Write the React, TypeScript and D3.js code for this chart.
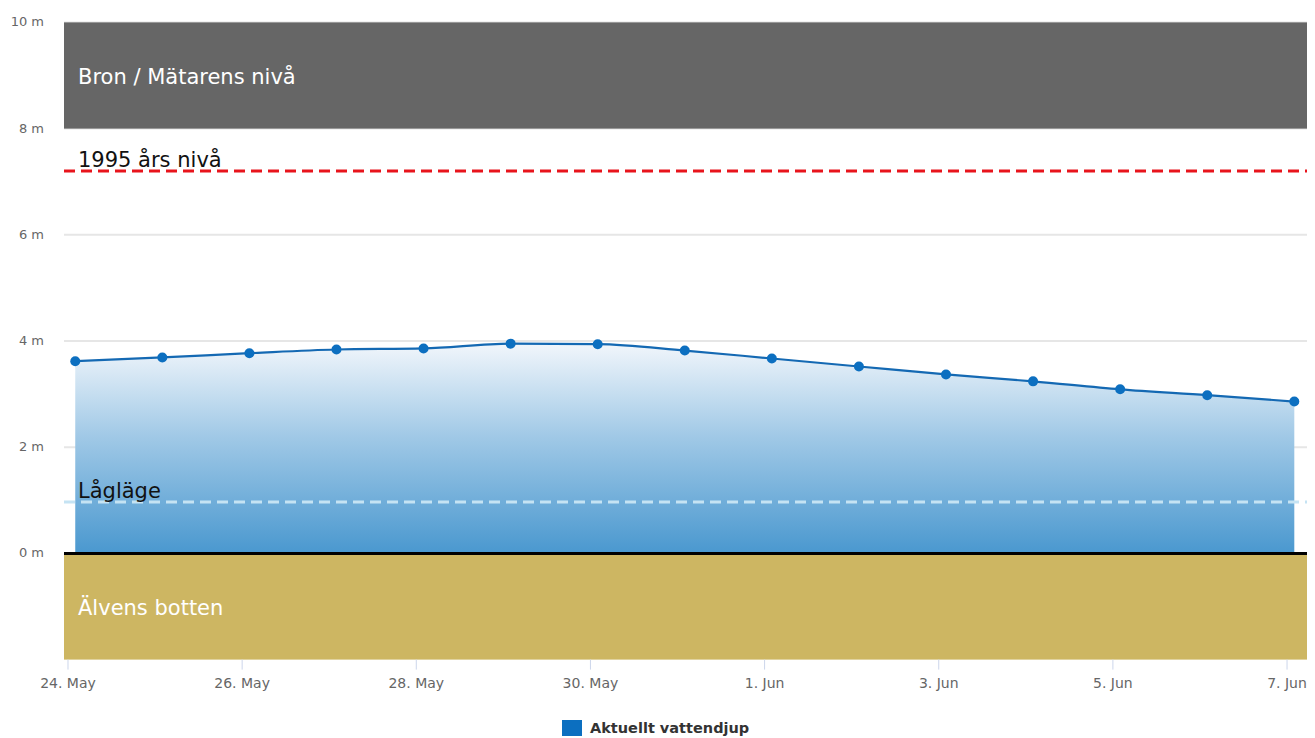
import { useEffect, useRef } from "react";
import * as d3 from "d3";

// dates of the readings (one per day, taken around 02:00)
const readingDates = [
  "2024-05-24", "2024-05-25", "2024-05-26", "2024-05-27", "2024-05-28",
  "2024-05-29", "2024-05-30", "2024-05-31", "2024-06-01", "2024-06-02",
  "2024-06-03", "2024-06-04", "2024-06-05", "2024-06-06", "2024-06-07",
];
// water depth in metres
const depthValues = [
  3.62, 3.69, 3.77, 3.84, 3.86, 3.95, 3.94, 3.82, 3.67, 3.52, 3.37, 3.24, 3.09, 2.98, 2.86,
];
const yTicks = [0, 2, 4, 6, 8, 10];
const xTickDates = ["2024-05-24", "2024-05-26", "2024-05-28", "2024-05-30", "2024-06-01", "2024-06-03", "2024-06-05", "2024-06-07"];

// bands and reference lines
const bridgeBand = [8, 10];
const bottomBand = [-2, 0];
const level1995 = 7.2;
const lowLevel = 0.97;

const seriesName = "Aktuellt vattendjup";

const W = 1315;
const H = 738;

function App() {
  const ref = useRef<SVGSVGElement>(null);

  useEffect(() => {
    const svg = d3.select(ref.current);
    svg.selectAll("*").remove();

    const parse = d3.timeParse("%Y-%m-%d");
    const readings = readingDates.map((d, i) => ({
      date: d3.timeHour.offset(parse(d) as Date, 2),
      value: depthValues[i],
    }));

    const plot = { left: 64, right: 1307, top: 22.4, bottom: 659.6 };

    const x = d3
      .scaleTime()
      .domain([new Date(2024, 4, 23, 22, 54), new Date(2024, 5, 7, 5, 30)])
      .range([plot.left, plot.right]);
    const y = d3.scaleLinear().domain([-2, 10]).range([plot.bottom, plot.top]);

    const font = "'DejaVu Sans', Verdana, sans-serif";

    // gradient for the area
    const defs = svg.append("defs");
    const grad = defs
      .append("linearGradient")
      .attr("id", "waterGrad")
      .attr("gradientUnits", "userSpaceOnUse")
      .attr("x1", 0)
      .attr("x2", 0)
      .attr("y1", y(d3.max(depthValues) as number))
      .attr("y2", y(0));
    grad.append("stop").attr("offset", 0).attr("stop-color", "#f1f6fb");
    grad.append("stop").attr("offset", 0.45).attr("stop-color", "#9fc8e6");
    grad.append("stop").attr("offset", 1).attr("stop-color", "#4a98cf");

    // grid lines
    svg
      .append("g")
      .selectAll("line")
      .data(yTicks)
      .enter()
      .append("line")
      .attr("x1", plot.left)
      .attr("x2", plot.right)
      .attr("y1", (d) => y(d))
      .attr("y2", (d) => y(d))
      .attr("stroke", "#e6e6e6")
      .attr("stroke-width", 2);

    // y labels
    svg
      .append("g")
      .selectAll("text")
      .data(yTicks)
      .enter()
      .append("text")
      .attr("x", 44)
      .attr("y", (d) => y(d) + 4)
      .attr("text-anchor", "end")
      .attr("font-family", font)
      .attr("font-size", 13)
      .attr("fill", "#666")
      .text((d) => `${d} m`);

    // bands
    svg
      .append("rect")
      .attr("x", plot.left)
      .attr("width", plot.right - plot.left)
      .attr("y", y(bridgeBand[1]))
      .attr("height", y(bridgeBand[0]) - y(bridgeBand[1]))
      .attr("fill", "#666666");
    svg
      .append("rect")
      .attr("x", plot.left)
      .attr("width", plot.right - plot.left)
      .attr("y", y(bottomBand[1]))
      .attr("height", y(bottomBand[0]) - y(bottomBand[1]))
      .attr("fill", "#cdb662");

    // area + line
    const area = d3
      .area<{ date: Date; value: number }>()
      .x((d) => x(d.date))
      .y0(y(0))
      .y1((d) => y(d.value))
      .curve(d3.curveMonotoneX);
    const line = d3
      .line<{ date: Date; value: number }>()
      .x((d) => x(d.date))
      .y((d) => y(d.value))
      .curve(d3.curveMonotoneX);

    svg.append("path").datum(readings).attr("d", area).attr("fill", "url(#waterGrad)");

    // low level line
    svg
      .append("line")
      .attr("x1", plot.left)
      .attr("x2", plot.right)
      .attr("y1", y(lowLevel))
      .attr("y2", y(lowLevel))
      .attr("stroke", "#c5e3f3")
      .attr("stroke-width", 3)
      .attr("stroke-dasharray", "11,6");

    // 1995 level
    svg
      .append("line")
      .attr("x1", plot.left)
      .attr("x2", plot.right)
      .attr("y1", y(level1995))
      .attr("y2", y(level1995))
      .attr("stroke", "#e8141c")
      .attr("stroke-width", 3)
      .attr("stroke-dasharray", "11,6");

    // zero line
    svg
      .append("line")
      .attr("x1", plot.left)
      .attr("x2", plot.right)
      .attr("y1", y(0))
      .attr("y2", y(0))
      .attr("stroke", "#000")
      .attr("stroke-width", 3);

    svg
      .append("path")
      .datum(readings)
      .attr("d", line)
      .attr("fill", "none")
      .attr("stroke", "#1469b3")
      .attr("stroke-width", 2.2);

    svg
      .append("g")
      .selectAll("circle")
      .data(readings)
      .enter()
      .append("circle")
      .attr("cx", (d) => x(d.date))
      .attr("cy", (d) => y(d.value))
      .attr("r", 5)
      .attr("fill", "#0c6fc0");

    // band / line labels
    const labels = [
      { text: "Bron / Mätarens nivå", v: 9, dy: 8, color: "#fff" },
      { text: "1995 års nivå", v: level1995, dy: -4, color: "#111" },
      { text: "Lågläge", v: lowLevel, dy: -4, color: "#111" },
      { text: "Älvens botten", v: -1, dy: 8, color: "#fff" },
    ];
    svg
      .append("g")
      .selectAll("text")
      .data(labels)
      .enter()
      .append("text")
      .attr("x", 78)
      .attr("y", (d) => y(d.v) + d.dy)
      .attr("font-family", font)
      .attr("font-size", 21)
      .attr("fill", (d) => d.color)
      .text((d) => d.text);

    // x axis ticks
    const ticks = xTickDates.map((d) => parse(d) as Date);
    svg
      .append("g")
      .selectAll("line")
      .data(ticks)
      .enter()
      .append("line")
      .attr("x1", (d) => x(d))
      .attr("x2", (d) => x(d))
      .attr("y1", plot.bottom)
      .attr("y2", plot.bottom + 10)
      .attr("stroke", "#ccd6eb");
    const fmt = d3.timeFormat("%-d. %b");
    svg
      .append("g")
      .selectAll("text")
      .data(ticks)
      .enter()
      .append("text")
      .attr("x", (d) => x(d))
      .attr("y", 688)
      .attr("text-anchor", "middle")
      .attr("font-family", font)
      .attr("font-size", 14)
      .attr("fill", "#666")
      .text((d) => fmt(d));

    // legend
    svg
      .append("rect")
      .attr("x", 562)
      .attr("y", 720)
      .attr("width", 20)
      .attr("height", 16)
      .attr("fill", "#0c6fc0");
    svg
      .append("text")
      .attr("x", 590)
      .attr("y", 733)
      .attr("font-family", font)
      .attr("font-size", 14.5)
      .attr("font-weight", "bold")
      .attr("fill", "#333")
      .text(seriesName);
  }, []);

  return (
    <div style={{ position: "absolute", left: 0, top: 0 }}>
      <svg ref={ref} width={W} height={H} style={{ display: "block", background: "#fff" }} />
    </div>
  );
}

export default App;
